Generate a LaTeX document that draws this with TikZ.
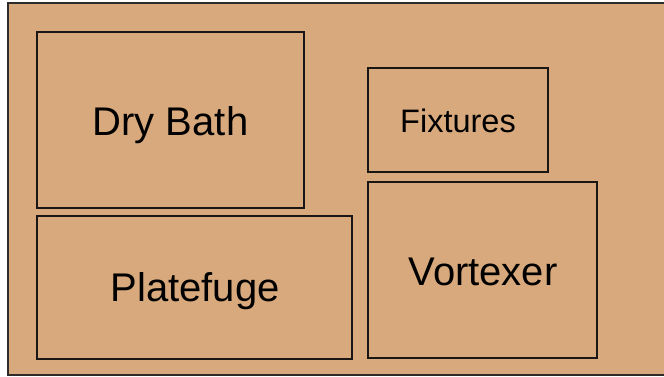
\documentclass[tikz,border=0pt]{standalone}
\usepackage{fontspec}
\setmainfont{Liberation Sans}
\definecolor{tanfill}{RGB}{215,169,124}
\definecolor{edge}{RGB}{25,22,20}
\begin{document}
\begin{tikzpicture}[x=1pt,y=-1pt,
  box/.style={draw=edge,line width=2pt,fill=tanfill},
  big/.style={anchor=base,font=\fontsize{40}{48}\selectfont,text=black,inner sep=0pt},
  small/.style={anchor=base,font=\fontsize{32.5}{39}\selectfont,text=black,inner sep=0pt}]
\useasboundingbox (0,0) rectangle (664,377);
\fill[white] (0,0) rectangle (664,377);
\draw[draw=edge!80!gray,line width=1.8pt,fill=tanfill] (8,3) rectangle (680,375);
\draw[box] (37,32) rectangle (304,208);
\draw[box] (37,216) rectangle (352,359);
\draw[box] (368,68) rectangle (548,172);
\draw[box] (368,182) rectangle (597,358);
\node[big] (dry) at (170.5,136) {Dry Bath};
\node[big] (plate) at (195,301) {Platefuge};
\node[small] (fix) at (458,133) {Fixtures};
\node[big] (vort) at (483,285) {Vortexer};
\end{tikzpicture}
\end{document}
